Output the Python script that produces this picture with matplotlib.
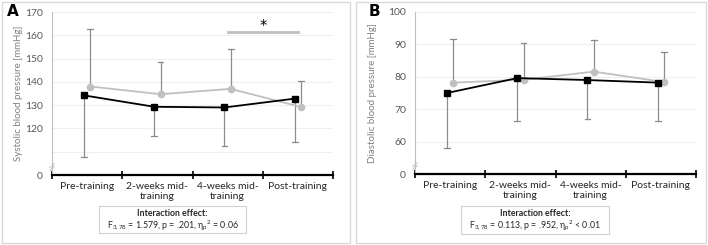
import matplotlib
matplotlib.use("Agg")
import matplotlib.pyplot as plt
from matplotlib.patches import Rectangle

plt.rcParams['font.family'] = ['Lato', 'DejaVu Sans']

categories = ["Pre-training", "2-weeks mid-\ntraining", "4-weeks mid-\ntraining", "Post-training"]

# Panel A: systolic
sys_black = [134.2, 129.3, 129.0, 132.8]
sys_black_low = [107.6, 116.6, 112.6, 114.1]
sys_gray = [138.0, 134.7, 137.0, 129.2]
sys_gray_high = [162.7, 148.5, 154.3, 140.2]
sys_ticks = [100, 110, 120, 130, 140, 150, 160, 170]
sys_ticklabels = ["0", "", "120", "130", "140", "150", "160", "170"]

# Panel B: diastolic
dia_black = [75.0, 79.6, 79.0, 78.2]
dia_black_low = [58.0, 66.3, 67.1, 66.4]
dia_gray = [78.2, 79.1, 81.6, 78.4]
dia_gray_high = [91.7, 90.4, 91.4, 87.5]
dia_ticks = [50, 60, 70, 80, 90, 100]
dia_ticklabels = ["0", "60", "70", "80", "90", "100"]

W, H = 708, 245
fig = plt.figure(figsize=(W / 100, H / 100), dpi=100)

def fx(px):
    return px / W

def fy(py):
    return 1 - py / H

GRAY_LINE = "#C0C0C0"
ERR = "#8C8C8C"
TXT = "#595959"

def panel(x0, x1, ax_l, ax_r, ax_t, ax_b, black, black_low, gray, gray_high,
          ticks, ticklabels, ylabel, letter, box, stat):
    # panel border
    fig.patches.append(Rectangle((fx(x0), fy(243)), fx(x1 - x0), 241 / H,
                                 transform=fig.transFigure, fill=False,
                                 edgecolor="#D9D9D9", lw=1))
    ax = fig.add_axes([fx(ax_l), fy(ax_b), fx(ax_r - ax_l), (ax_b - ax_t) / H])
    xs = [i + 0.5 for i in range(4)]
    off = 0.045
    xb = [x - off for x in xs]
    xg = [x + off for x in xs]
    ax.set_xlim(0, 4)
    ax.set_ylim(ticks[0], ticks[-1])
    for g in ticks[1:]:
        ax.axhline(g, color="#F0F0F0", lw=0.8, zorder=0)
    # error bars
    for x, m, lo in zip(xb, black, black_low):
        ax.plot([x, x], [m, lo], color=ERR, lw=0.9, zorder=2)
        ax.plot([x - 0.04, x + 0.04], [lo, lo], color=ERR, lw=0.9, zorder=2)
    for x, m, hi in zip(xg, gray, gray_high):
        ax.plot([x, x], [m, hi], color=ERR, lw=0.9, zorder=2)
        ax.plot([x - 0.04, x + 0.04], [hi, hi], color=ERR, lw=0.9, zorder=2)
    ax.plot(xg, gray, color=GRAY_LINE, lw=1.3, marker="o", ms=4.5,
            mfc=GRAY_LINE, mec=GRAY_LINE, zorder=3)
    ax.plot(xb, black, color="black", lw=1.3, marker="s", ms=4.5,
            mfc="black", mec="black", zorder=4)
    # axes styling
    for s in ["top", "right"]:
        ax.spines[s].set_visible(False)
    ax.spines["left"].set_color("#BFBFBF")
    ax.spines["left"].set_linewidth(0.8)
    ax.spines["bottom"].set_color("black")
    ax.spines["bottom"].set_linewidth(1.6)
    ax.set_yticks(ticks)
    ax.set_yticklabels(ticklabels)
    ax.tick_params(axis="y", length=0, labelcolor=TXT, labelsize=7.5, pad=6.5)
    ax.set_xticks([0, 1, 2, 3, 4])
    ax.set_xticklabels([])
    ax.tick_params(axis="x", which="major", direction="inout", length=6,
                   width=1.2, color="black")
    ax.set_xticks(xs, minor=True)
    ax.set_xticklabels(categories, minor=True)
    ax.tick_params(axis="x", which="minor", length=0, labelsize=7.5,
                   labelcolor="#262626", pad=5)
    ax.set_ylabel(ylabel, fontsize=7, color="#808080")
    ax.yaxis.set_label_coords(-(ax_l - (x0 + 21)) / (ax_r - ax_l), 0.5)
    # axis break mark
    for dy in (0.040, 0.057):
        ax.plot([-0.008, 0.008], [dy - 0.012, dy + 0.012], transform=ax.transAxes,
                color="#BFBFBF", lw=0.7, clip_on=False)
    # panel letter
    fig.text(fx(letter[0]), fy(letter[1]), letter[2], fontsize=11,
             fontweight="bold", ha="left", va="center", family="DejaVu Sans")
    # box
    bx0, bx1, by0, by1 = box
    fig.patches.append(Rectangle((fx(bx0), fy(by1)), fx(bx1 - bx0), (by1 - by0) / H,
                                 transform=fig.transFigure, fill=False,
                                 edgecolor="#D0D0D0", lw=0.8))
    cx = fx((bx0 + bx1) / 2)
    fig.text(cx, fy(213.5), "Interaction effect:", fontsize=6.3,
             fontweight="bold", ha="center", va="center", color="#262626")
    fig.text(cx, fy(225.5), stat, fontsize=6.3, ha="center", va="center",
             color="#262626")
    return ax

axA = panel(2, 350, 52, 333, 12, 175, sys_black, sys_black_low, sys_gray,
            sys_gray_high, sys_ticks, sys_ticklabels,
            "Systolic blood pressure [mmHg]", (7, 12, "A"), (99, 246, 206, 233),
            "F$_\\mathregular{3,78}$ = 1.579, p = .201, η$_\\mathregular{p}$$^\\mathregular{2}$ = 0.06")
# significance bar
axA.plot([2.5, 3.5], [161.3, 161.3], color=GRAY_LINE, lw=2)
axA.text(3.0, 162.0, "*", fontsize=10.5, ha="center", va="baseline", color="black",
         family="DejaVu Sans")

axB = panel(356, 706, 415, 696, 12, 174, dia_black, dia_black_low, dia_gray,
            dia_gray_high, dia_ticks, dia_ticklabels,
            "Diastolic blood pressure [mmHg]", (369, 12, "B"), (461, 609, 206, 234),
            "F$_\\mathregular{3,78}$ = 0.113, p = .952, η$_\\mathregular{p}$$^\\mathregular{2}$ < 0.01")

fig.savefig("out.png", dpi=100)
